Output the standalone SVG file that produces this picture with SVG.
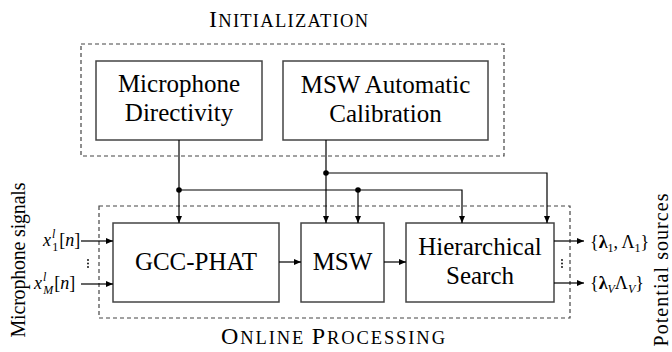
<svg xmlns="http://www.w3.org/2000/svg" width="672" height="352" viewBox="0 0 672 352">
<defs>
<marker id="arr" markerWidth="8" markerHeight="6" refX="7" refY="3" orient="auto" markerUnits="userSpaceOnUse">
<path d="M0,0 L7,3 L0,6 z" fill="#000"/>
</marker>
<style>
.box{fill:#fff;stroke:#444;stroke-width:1.5}
.dash{fill:none;stroke:#444;stroke-width:1.2;stroke-dasharray:4 3}
.ca{fill:none;stroke:#000;stroke-width:1.2;marker-end:url(#arr)}
text{font-family:"Liberation Serif","DejaVu Serif","Times New Roman",serif;fill:#000}
.t{font-size:25px;text-anchor:middle}
.m{font-size:18px}
.i{font-style:italic}
.s{font-size:12px}
.lab{font-size:20px;text-anchor:middle}
.dot{fill:#000}
</style>
</defs>

<g id="initialization">
<rect class="dash" x="81" y="44" width="423" height="112"/>
<text class="lab" x="288.5" y="27" textLength="159" lengthAdjust="spacing"><tspan font-size="24">I</tspan><tspan font-size="18.5">NITIALIZATION</tspan></text>
</g>
<g id="online-processing">
<rect class="dash" x="99" y="206" width="471" height="112"/>
<text class="lab" x="333" y="344" textLength="224" lengthAdjust="spacing"><tspan font-size="24">O</tspan><tspan font-size="18.5">NLINE </tspan><tspan font-size="24">P</tspan><tspan font-size="18.5">ROCESSING</tspan></text>
</g>

<g id="microphone-directivity">
<rect class="box" x="96" y="61" width="166" height="79"/>
<text class="t" x="179" y="92">Microphone</text>
<text class="t" x="179" y="121">Directivity</text>
</g>
<g id="msw-calibration">
<rect class="box" x="283" y="61" width="205" height="79"/>
<text class="t" x="385.5" y="93">MSW Automatic</text>
<text class="t" x="385.5" y="122">Calibration</text>
</g>
<g id="gcc-phat">
<rect class="box" x="113" y="223" width="166" height="79"/>
<text class="t" x="196" y="270">GCC-PHAT</text>
</g>
<g id="msw">
<rect class="box" x="301" y="223" width="83" height="79"/>
<text class="t" x="342.5" y="270">MSW</text>
</g>
<g id="hierarchical-search">
<rect class="box" x="406" y="223" width="148" height="79"/>
<text class="t" x="480" y="255">Hierarchical</text>
<text class="t" x="480" y="284">Search</text>
</g>

<g id="connectors">
<path class="ca" d="M179,140 V223"/>
<path class="ca" d="M179,190 H462 V223"/>
<path class="ca" d="M358,190 V223"/>
<path class="ca" d="M326,140 V223"/>
<path class="ca" d="M326,173 H547 V223"/>
<circle class="dot" cx="179" cy="190" r="2.8"/>
<circle class="dot" cx="358" cy="190" r="2.8"/>
<circle class="dot" cx="326" cy="173" r="2.8"/>
<path class="ca" d="M279,262 H301"/>
<path class="ca" d="M384,262 H406"/>
<path class="ca" d="M81,241 H113"/>
<path class="ca" d="M81,284 H113"/>
<path class="ca" d="M554,241 H584"/>
<path class="ca" d="M554,283 H584"/>
</g>

<g id="inputs">
<text class="m" x="43" y="246"><tspan class="i">x</tspan><tspan class="s i" dx="1" dy="-8">l</tspan><tspan class="s" dx="-3" dy="13">1</tspan><tspan dx="1" dy="-5">[</tspan><tspan class="i">n</tspan><tspan>]</tspan></text>
<text class="m" x="34" y="289"><tspan class="i">x</tspan><tspan class="s i" dx="1" dy="-8">l</tspan><tspan class="s i" dx="-3" dy="13">M</tspan><tspan dx="1" dy="-5">[</tspan><tspan class="i">n</tspan><tspan>]</tspan></text>
<g class="dot"><circle cx="88" cy="260" r="0.9"/><circle cx="88" cy="263.5" r="0.9"/><circle cx="88" cy="267" r="0.9"/></g>
<text class="lab" x="25" y="260" transform="rotate(-90 25 260)" textLength="155" lengthAdjust="spacing">Microphone signals</text>
</g>

<g id="outputs">
<text class="m" x="590" y="248">{<tspan font-weight="bold">λ</tspan><tspan class="s" dy="4">1</tspan><tspan dy="-4">, Λ</tspan><tspan class="s" dy="4">1</tspan><tspan dy="-4">}</tspan></text>
<text class="m" x="590" y="289">{<tspan font-weight="bold">λ</tspan><tspan class="s i" dy="4">V</tspan><tspan dy="-4">Λ</tspan><tspan class="s i" dy="4">V</tspan><tspan dy="-4">}</tspan></text>
<g class="dot"><circle cx="562" cy="260" r="0.9"/><circle cx="562" cy="263.5" r="0.9"/><circle cx="562" cy="267" r="0.9"/></g>
<text class="lab" x="668" y="270" transform="rotate(-90 668 270)" textLength="153" lengthAdjust="spacing">Potential sources</text>
</g>
</svg>
